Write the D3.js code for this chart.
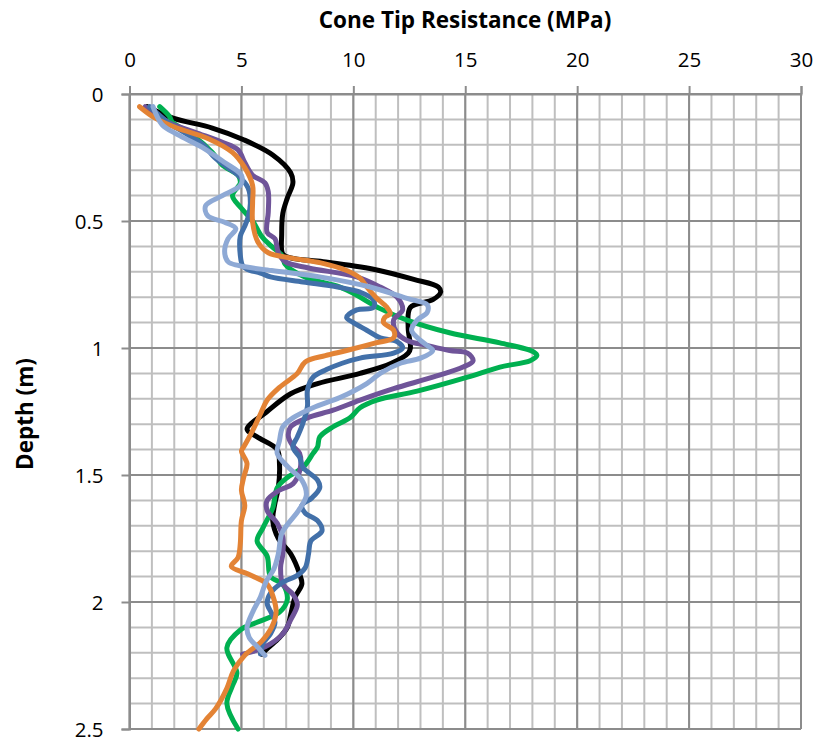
<!DOCTYPE html>
<html>
<head>
<meta charset="utf-8">
<script src="https://cdn.jsdelivr.net/npm/d3@7/dist/d3.min.js"></script>
<style>
  html, body { margin: 0; padding: 0; background: #fff; }
  svg { display: block; font-family: "Open Sans", "DejaVu Sans", sans-serif; }
</style>
</head>
<body>
<svg id="chart" width="819" height="742"></svg>
<script>
// ---- Data (depth in m, cone tip resistance in MPa) ----
const xTicks = [0, 5, 10, 15, 20, 25, 30];
const yTicks = [0, 0.5, 1, 1.5, 2, 2.5];
const xLabel = "Cone Tip Resistance (MPa)";
const yLabel = "Depth (m)";

const blackDepth = [0.05,0.095,0.134,0.18,0.24,0.31,0.35,0.41,0.47,0.55,0.63,0.645,0.66,0.69,0.73,0.76,0.78,0.81,0.84,0.92,1.0,1.02,1.06,1.1,1.14,1.18,1.25,1.32,1.35,1.40,1.455,1.55,1.61,1.68,1.75,1.81,1.89,1.93,1.98,2.05,2.10,2.14,2.18,2.205];
const blackQc    = [0.8,1.95,3.7,5.1,6.4,7.2,7.3,7.05,6.85,6.8,6.85,7.2,8.65,10.9,12.7,13.8,13.9,13.55,12.55,12.45,12.55,12.45,11.7,10.3,8.4,7.2,6.15,5.25,5.7,6.6,6.7,6.65,6.5,6.4,6.65,7.2,7.6,7.7,7.4,7.2,7.05,6.7,6.2,5.9];

const greenDepth = [0.05,0.09,0.11,0.16,0.23,0.28,0.32,0.35,0.40,0.45,0.50,0.56,0.60,0.635,0.67,0.69,0.725,0.76,0.785,0.845,0.89,0.94,0.98,1.015,1.03,1.05,1.075,1.115,1.17,1.205,1.235,1.275,1.31,1.35,1.39,1.415,1.47,1.51,1.55,1.63,1.71,1.76,1.82,1.90,1.93,1.99,2.04,2.08,2.11,2.18,2.28,2.33,2.40,2.5];
const greenQc    = [1.35,1.8,1.9,2.8,3.7,4.15,4.85,4.95,4.6,5.0,5.5,5.9,6.35,6.8,6.95,7.2,7.95,9.4,10.0,11.2,12.4,14.3,16.55,18.05,18.2,17.9,16.55,15.1,12.85,11.05,10.3,9.85,9.1,8.5,8.4,8.2,7.75,7.05,6.6,6.4,5.95,5.7,6.15,6.3,6.85,7.05,6.7,5.7,4.95,4.35,4.8,4.6,4.35,4.85];

const purpleDepth = [0.05,0.11,0.15,0.19,0.22,0.27,0.32,0.35,0.385,0.465,0.545,0.57,0.625,0.66,0.685,0.72,0.76,0.80,0.85,0.89,0.94,0.97,0.99,1.01,1.02,1.05,1.075,1.115,1.16,1.205,1.245,1.275,1.31,1.35,1.385,1.415,1.485,1.535,1.56,1.6,1.64,1.69,1.745,1.81,1.865,1.93,1.97,2.01,2.07,2.125,2.165,2.19,2.205];
const purpleQc    = [0.7,1.7,2.9,4.15,4.85,5.15,5.5,6.05,6.2,6.2,6.15,6.5,6.65,6.95,8.0,10.15,11.2,11.95,12.2,11.8,11.95,12.4,13.3,14.3,15.1,15.35,14.9,13.55,11.8,10.3,9.1,7.95,7.2,7.1,7.3,7.6,7.6,7.3,6.7,6.15,6.15,6.6,6.85,6.85,6.75,6.85,7.3,7.5,7.2,6.85,6.3,5.7,5.05];

const blueDepth = [0.05,0.11,0.16,0.2,0.25,0.29,0.32,0.37,0.43,0.485,0.52,0.56,0.635,0.675,0.69,0.705,0.72,0.74,0.76,0.78,0.81,0.84,0.85,0.88,0.90,0.93,0.96,0.975,1.0,1.02,1.04,1.06,1.085,1.115,1.165,1.23,1.295,1.35,1.39,1.43,1.47,1.52,1.55,1.59,1.62,1.65,1.68,1.72,1.76,1.81,1.865,1.895,1.925,1.965,2.005,2.045,2.08,2.125,2.165,2.205];
const blueQc    = [0.9,1.7,2.6,3.3,3.8,4.4,4.85,5.3,5.4,5.3,5.15,4.95,4.95,5.05,5.25,5.85,6.3,7.75,9.3,10.3,10.9,10.9,10.15,9.7,10.0,10.6,11.2,11.95,12.2,11.8,10.3,9.5,8.8,8.2,7.95,7.95,7.75,7.5,7.3,7.6,7.75,8.4,8.5,8.15,7.7,7.85,8.4,8.6,8.1,8.0,7.85,7.5,6.8,6.3,6.15,6.35,6.5,6.3,5.95,5.85];

const lightDepth = [0.05,0.12,0.16,0.21,0.27,0.32,0.36,0.40,0.44,0.48,0.505,0.53,0.57,0.62,0.66,0.675,0.695,0.72,0.76,0.805,0.83,0.86,0.89,0.93,0.97,1.0,1.01,1.04,1.06,1.1,1.14,1.195,1.235,1.275,1.31,1.365,1.415,1.47,1.52,1.58,1.64,1.69,1.73,1.81,1.87,1.92,1.98,2.04,2.10,2.14,2.18,2.21];
const lightQc    = [1.05,1.45,2.15,3.25,4.25,5.0,4.95,4.15,3.4,3.5,4.25,4.75,4.4,4.25,4.4,4.85,6.35,8.5,10.75,12.4,13.3,13.3,12.85,12.6,13.0,13.45,13.55,13.0,12.1,11.2,10.6,9.4,8.2,7.3,6.85,6.7,6.6,7.1,7.7,7.9,7.55,7.1,6.8,6.65,6.45,6.1,5.85,5.5,5.25,5.35,5.75,6.05];

const orangeDepth = [0.05,0.095,0.135,0.175,0.23,0.29,0.36,0.425,0.505,0.585,0.625,0.645,0.665,0.695,0.725,0.76,0.80,0.84,0.865,0.88,0.9,0.93,0.96,0.98,1.01,1.03,1.055,1.1,1.155,1.205,1.26,1.325,1.39,1.405,1.455,1.51,1.56,1.62,1.68,1.77,1.825,1.86,1.89,1.93,1.975,2.04,2.10,2.155,2.21,2.27,2.34,2.42,2.46,2.5];
const orangeQc    = [0.45,1.15,2.15,3.5,4.6,5.15,5.5,5.5,5.5,5.75,6.2,7.2,8.55,9.7,10.3,10.6,11.0,11.5,11.65,11.4,11.35,11.8,11.8,11.0,9.7,8.75,7.85,7.5,6.7,6.15,5.85,5.5,5.1,5.0,5.25,5.1,5.0,5.15,5.0,4.95,4.85,4.55,5.3,6.15,6.4,6.55,6.35,5.9,5.15,4.65,4.35,3.85,3.45,3.1];

const seriesNames  = ["black", "green", "purple", "blue", "orange", "lightblue"];
const seriesColors = ["#000000", "#00b050", "#6f5499", "#4270a9", "#e38335", "#8ea9d5"];
const seriesDepths = [blackDepth, greenDepth, purpleDepth, blueDepth, orangeDepth, lightDepth];
const seriesValues = [blackQc, greenQc, purpleQc, blueQc, orangeQc, lightQc];

// ---- Layout ----
const svg = d3.select("#chart");
const plotLeft = 129.5, plotRight = 801, plotTop = 94, plotBottom = 729;

const x = d3.scaleLinear().domain([0, 30]).range([plotLeft, plotRight]);
const y = d3.scaleLinear().domain([0, 2.5]).range([plotTop, plotBottom]);

// minor grid
const g = svg.append("g");
g.selectAll("line.vminor").data(d3.range(0, 31, 1)).join("line")
  .attr("x1", d => x(d)).attr("x2", d => x(d))
  .attr("y1", plotTop).attr("y2", plotBottom)
  .attr("stroke", "#bfbfbf").attr("stroke-width", 2);
g.selectAll("line.hminor").data(d3.range(0, 26, 1).map(i => i / 10)).join("line")
  .attr("y1", d => y(d)).attr("y2", d => y(d))
  .attr("x1", plotLeft).attr("x2", plotRight)
  .attr("stroke", "#bfbfbf").attr("stroke-width", 2);
// major grid
const g2 = svg.append("g");
g2.selectAll("line").data(xTicks).join("line")
  .attr("x1", d => x(d)).attr("x2", d => x(d))
  .attr("y1", plotTop).attr("y2", plotBottom)
  .attr("stroke", "#8c8c8c").attr("stroke-width", 2);
const g3 = svg.append("g");
g3.selectAll("line").data(yTicks).join("line")
  .attr("y1", d => y(d)).attr("y2", d => y(d))
  .attr("x1", plotLeft).attr("x2", plotRight)
  .attr("stroke", "#8c8c8c").attr("stroke-width", 2);

// axes
const xAxis = d3.axisTop(x).tickValues(xTicks).tickSize(8).tickPadding(19).tickFormat(d3.format("d"));
const yAxis = d3.axisLeft(y).tickValues(yTicks).tickSize(8).tickPadding(18).tickFormat(d => String(d));

const gx = svg.append("g").attr("transform", `translate(0,${plotTop})`).call(xAxis);
const gy = svg.append("g").attr("transform", `translate(${plotLeft},0)`).call(yAxis);
[gx, gy].forEach(a => {
  a.select(".domain").attr("stroke", "#8c8c8c").attr("stroke-width", 2);
  a.selectAll(".tick line").attr("stroke", "#8c8c8c").attr("stroke-width", 2);
  a.selectAll(".tick text").attr("fill", "#000").style("font-size", "20.5px")
    .style("font-family", "'Open Sans', sans-serif");
});
gx.selectAll(".tick text").attr("dy", "0");
gy.selectAll(".tick text").attr("dy", "0.35em");

// series
const line = d3.line().curve(d3.curveCatmullRom.alpha(0.5))
  .x(d => x(d[1])).y(d => y(d[0]));
seriesNames.forEach((name, i) => {
  const pts = seriesDepths[i].map((dp, k) => [dp, seriesValues[i][k]]);
  svg.append("path").datum(pts)
    .attr("class", "series " + name)
    .attr("fill", "none")
    .attr("stroke", seriesColors[i])
    .attr("stroke-width", 5)
    .attr("stroke-linejoin", "round")
    .attr("stroke-linecap", "round")
    .attr("d", line);
});

// titles
svg.append("text").attr("x", 465).attr("y", 28)
  .attr("text-anchor", "middle").style("font-weight", "bold").style("font-size", "22.5px")
  .text(xLabel);
svg.append("text").attr("transform", "translate(33,414) rotate(-90)")
  .attr("text-anchor", "middle").style("font-weight", "bold").style("font-size", "22.5px")
  .text(yLabel);
</script>
</body>
</html>
